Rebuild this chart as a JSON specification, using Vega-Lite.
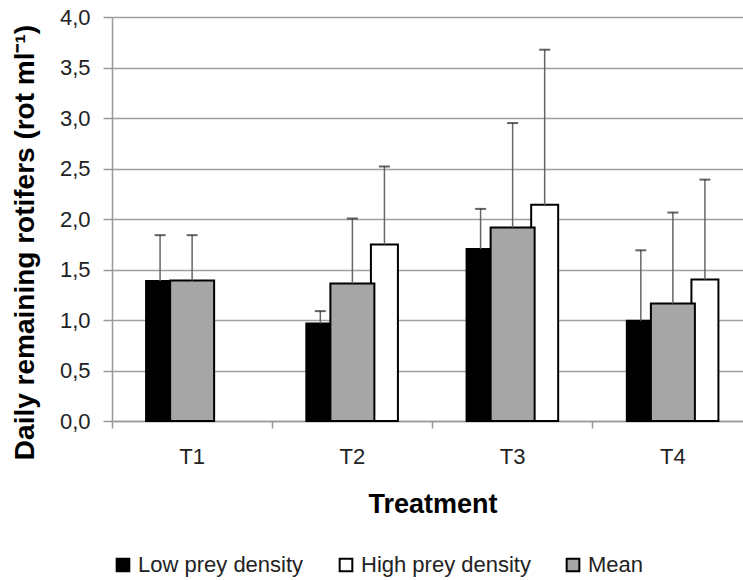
{
  "$schema": "https://vega.github.io/schema/vega-lite/v6.json",
  "autosize": "none",
  "width": 631,
  "height": 404,
  "padding": {"left": 112, "top": 17, "right": 0, "bottom": 159},
  "background": "white",
  "config": {
    "locale": {"number": {"decimal": ",", "thousands": ".", "grouping": [3], "currency": ["", " €"]}},
    "font": "Liberation Sans",
    "view": {"stroke": null}
  },
  "data": {
    "values": [
      {"treatment": "T1", "series": "Low prey density", "value": 1.385, "upper": 1.84},
      {"treatment": "T1", "series": "Mean", "value": 1.39, "upper": 1.84},
      {"treatment": "T2", "series": "Low prey density", "value": 0.966, "upper": 1.088},
      {"treatment": "T2", "series": "Mean", "value": 1.362, "upper": 2.005},
      {"treatment": "T2", "series": "High prey density", "value": 1.748, "upper": 2.52},
      {"treatment": "T3", "series": "Low prey density", "value": 1.704, "upper": 2.10},
      {"treatment": "T3", "series": "Mean", "value": 1.916, "upper": 2.95},
      {"treatment": "T3", "series": "High prey density", "value": 2.14, "upper": 3.676},
      {"treatment": "T4", "series": "Low prey density", "value": 0.992, "upper": 1.69},
      {"treatment": "T4", "series": "Mean", "value": 1.164, "upper": 2.064},
      {"treatment": "T4", "series": "High prey density", "value": 1.40, "upper": 2.39}
    ]
  },
  "encoding": {
    "x": {
      "field": "treatment", "type": "nominal",
      "scale": {"domain": ["T1", "T2", "T3", "T4"], "range": [0, 641], "paddingInner": 0, "paddingOuter": 0},
      "axis": {
        "title": "Treatment", "titleFont": "Liberation Sans", "titleFontSize": 27, "titleFontWeight": "bold", "titleColor": "#000",
        "titlePadding": 24,
        "labelAngle": 0, "labelFontSize": 22, "labelColor": "#222", "labelPadding": 18,
        "bandPosition": 0,
        "domainColor": "#999", "domainWidth": 1.5, "tickColor": "#999", "tickWidth": 1.5, "tickSize": 7,
        "grid": false
      }
    },
    "xOffset": {
      "field": "series", "type": "nominal",
      "scale": {"domain": ["Low prey density", "Mean", "High prey density"], "paddingInner": 0, "paddingOuter": 1.263}
    },
    "y": {
      "field": "value", "type": "quantitative",
      "scale": {"domain": [0, 4]},
      "axis": {
        "title": "Daily remaining rotifers (rot ml⁻¹)", "titleFont": "Liberation Sans", "titleFontSize": 28, "titleFontWeight": "bold", "titleColor": "#000",
        "titlePadding": 20, "titleY": 225,
        "values": [0, 0.5, 1, 1.5, 2, 2.5, 3, 3.5, 4], "format": ".1f",
        "labelFontSize": 22, "labelColor": "#222", "labelPadding": 13,
        "domainColor": "#999", "domainWidth": 1.5, "tickColor": "#999", "tickWidth": 1.5, "tickSize": 9,
        "grid": true, "gridColor": "#a0a0a0", "gridWidth": 1.5
      }
    }
  },
  "layer": [
    {
      "transform": [{"filter": "datum.series === 'Low prey density'"}],
      "mark": {"type": "bar", "width": 28, "stroke": "#000", "strokeWidth": 2},
      "encoding": {
        "color": {
          "field": "series", "type": "nominal",
          "scale": {"domain": ["Low prey density", "High prey density", "Mean"], "range": ["#000000", "#ffffff", "#a6a6a6"]},
          "legend": {
            "title": null, "orient": "bottom", "direction": "horizontal", "offset": 37,
            "symbolType": "square", "symbolSize": 160, "symbolStrokeColor": "#000", "symbolStrokeWidth": 2, "symbolOpacity": 1,
            "labelFontSize": 22, "labelColor": "#222", "labelFont": "Liberation Sans", "labelOffset": 4, "columnPadding": 31, "labelLimit": 0
          }
        }
      }
    },
    {
      "transform": [{"filter": "datum.series === 'High prey density'"}],
      "mark": {"type": "bar", "width": 27, "stroke": "#000", "strokeWidth": 2},
      "encoding": {"color": {"field": "series", "type": "nominal"}}
    },
    {
      "transform": [{"filter": "datum.series === 'Mean'"}],
      "mark": {"type": "bar", "width": 44, "stroke": "#000", "strokeWidth": 2},
      "encoding": {"color": {"field": "series", "type": "nominal"}}
    },
    {
      "mark": {"type": "rule", "color": "#666", "strokeWidth": 1.5},
      "encoding": {"y2": {"field": "upper"}}
    },
    {
      "mark": {"type": "tick", "color": "#222", "thickness": 2, "size": 11, "orient": "horizontal"},
      "encoding": {"y": {"field": "upper", "type": "quantitative"}}
    }
  ]
}
